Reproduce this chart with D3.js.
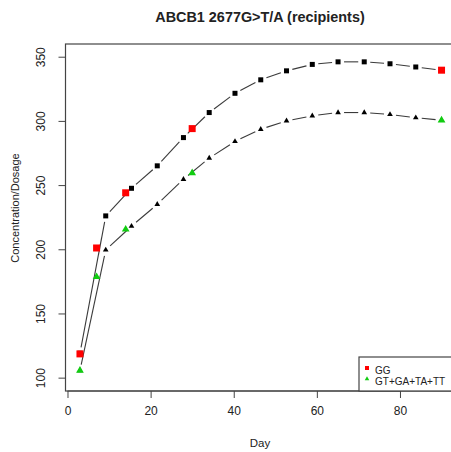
<!DOCTYPE html>
<html>
<head>
<meta charset="utf-8">
<script src="https://cdn.jsdelivr.net/npm/d3@7"></script>
<style>
  body { margin: 0; background: #fff; }
  text { font-family: "Liberation Sans", Arial, sans-serif; fill: #222; }
</style>
</head>
<body>
<div id="chart"></div>
<script>
// fitted curve days and values
var fitDays = [3, 9.2, 15.4, 21.6, 27.9, 34.1, 40.3, 46.5, 52.7, 58.9, 65.1, 71.4, 77.6, 83.8, 90];
var ggFit = [119, 226, 247.5, 265, 287, 306.5, 321.5, 332, 339, 344, 346, 346, 344.5, 342, 339.5];
var otherFit = [105.5, 199.5, 218, 235, 254.5, 271, 284, 293.5, 300, 304, 306.5, 306.5, 305, 302.5, 300.5];

// observed days
var obsDays = [3, 7, 14, 30, 90];
var ggObs = [118.5, 201, 244, 294, 339.5];
var otherObs = [105.5, 178.5, 215.5, 259.5, 300.5];

var xTicks = [0, 20, 40, 60, 80];
var yTicks = [100, 150, 200, 250, 300, 350];
var legendLabels = ["GG", "GT+GA+TA+TT"];

var widthSVG = 451;
var heightSVG = 452;

var svg = d3.select("#chart")
  .append("svg")
  .attr("width", widthSVG)
  .attr("height", heightSVG);

var x = d3.scaleLinear().domain([-0.48, 93.48]).range([65.5, 456]);
var y = d3.scaleLinear().domain([89.6, 359.9]).range([391, 44]);

// title
svg.append("text")
  .attr("x", 260).attr("y", 22)
  .attr("text-anchor", "middle")
  .attr("font-size", 14.4).attr("font-weight", "bold")
  .text("ABCB1 2677G>T/A (recipients)");

// axes
var xAxis = svg.append("g")
  .attr("transform", "translate(0,391)")
  .call(d3.axisBottom(x).tickValues(xTicks).tickSize(7).tickPadding(8).tickSizeOuter(0));
xAxis.select(".domain").attr("d", "M" + x(0) + ",0H" + x(80));

var yAxis = svg.append("g")
  .attr("transform", "translate(65.5,0)")
  .call(d3.axisLeft(y).tickValues(yTicks).tickSize(7).tickSizeOuter(0));
yAxis.select(".domain").attr("d", "M0," + y(100) + "V" + y(350));
yAxis.selectAll(".tick text")
  .attr("transform", "rotate(-90)")
  .attr("x", 0).attr("y", -21)
  .attr("dy", "0em")
  .attr("text-anchor", "middle");

svg.selectAll(".domain, .tick line").attr("stroke", "#444");
svg.selectAll(".tick text").attr("font-size", 12).attr("fill", "#222")
  .attr("font-family", "Liberation Sans, Arial, sans-serif");

// plot box
svg.append("rect")
  .attr("x", 65.5).attr("y", 44)
  .attr("width", 400).attr("height", 347)
  .attr("fill", "none").attr("stroke", "#444").attr("stroke-width", 1.2);

// axis labels
svg.append("text")
  .attr("x", 260).attr("y", 447)
  .attr("text-anchor", "middle").attr("font-size", 11.5)
  .text("Day");

svg.append("text")
  .attr("transform", "translate(19,208) rotate(-90)")
  .attr("text-anchor", "middle").attr("font-size", 11)
  .text("Concentration/Dosage");

// lines with gaps at points (type b)
function gapLines(vals, gap) {
  var g = svg.append("g");
  for (var i = 0; i < fitDays.length - 1; i++) {
    var x1 = x(fitDays[i]), y1 = y(vals[i]);
    var x2 = x(fitDays[i + 1]), y2 = y(vals[i + 1]);
    var len = Math.hypot(x2 - x1, y2 - y1);
    if (len <= 2 * gap) continue;
    var ux = (x2 - x1) / len, uy = (y2 - y1) / len;
    g.append("line")
      .attr("x1", x1 + ux * gap).attr("y1", y1 + uy * gap)
      .attr("x2", x2 - ux * gap).attr("y2", y2 - uy * gap)
      .attr("stroke", "#3a3a3a").attr("stroke-width", 1.1);
  }
}
gapLines(ggFit, 6);
gapLines(otherFit, 6);

var tri = d3.symbol().type(d3.symbolTriangle);

svg.append("g").selectAll("rect")
  .data(fitDays)
  .enter()
  .append("rect")
  .attr("x", (d, i) => x(d) - 2.5)
  .attr("y", (d, i) => y(ggFit[i]) - 2.5)
  .attr("width", 5).attr("height", 5)
  .attr("fill", "#000");

svg.append("g").selectAll("path")
  .data(fitDays)
  .enter()
  .append("path")
  .attr("d", tri.size(14))
  .attr("transform", (d, i) => "translate(" + x(d) + "," + y(otherFit[i]) + ")")
  .attr("fill", "#000");

// observed points
svg.append("g").selectAll("rect")
  .data(obsDays)
  .enter()
  .append("rect")
  .attr("x", d => x(d) - 3.5)
  .attr("y", (d, i) => y(ggObs[i]) - 3.5)
  .attr("width", 7).attr("height", 7)
  .attr("fill", "#f00");

svg.append("g").selectAll("path")
  .data(obsDays)
  .enter()
  .append("path")
  .attr("d", tri.size(26))
  .attr("transform", (d, i) => "translate(" + x(d) + "," + y(otherObs[i]) + ")")
  .attr("fill", "#1c1");

// legend
var legend = svg.append("g");
legend.append("rect")
  .attr("x", 359).attr("y", 357)
  .attr("width", 100).attr("height", 34)
  .attr("fill", "#fff").attr("stroke", "#444").attr("stroke-width", 1.2);

legend.append("rect")
  .attr("x", 365).attr("y", 366).attr("width", 4).attr("height", 4)
  .attr("fill", "#f00");
legend.append("path")
  .attr("d", tri.size(9))
  .attr("transform", "translate(367,379)")
  .attr("fill", "#1c1");

legend.selectAll("text")
  .data(legendLabels)
  .enter()
  .append("text")
  .attr("x", 375)
  .attr("y", (d, i) => 373.5 + i * 11.5)
  .attr("font-size", 10)
  .text(d => d);
</script>
</body>
</html>
